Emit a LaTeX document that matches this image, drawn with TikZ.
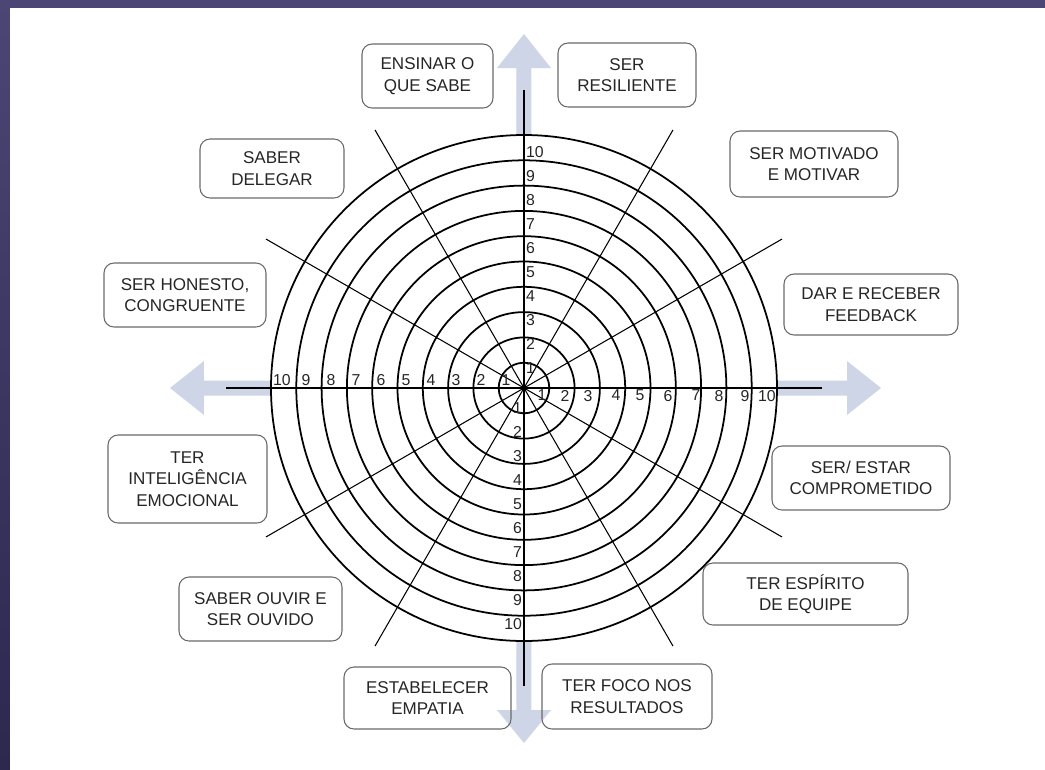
\documentclass[tikz,border=0pt]{standalone}
\usepackage{fontspec}
\setmainfont{Liberation Sans}
\definecolor{framepurple}{HTML}{4B4674}
\definecolor{framedark}{HTML}{2C284E}
\definecolor{axisblue}{HTML}{CDD5E6}
\definecolor{boxgrey}{HTML}{6A6A6A}
\definecolor{inkgrey}{HTML}{262626}
\begin{document}
\begin{tikzpicture}[x=0.02cm,y=0.02cm,
    ring/.style={line width=1pt},
    spoke/.style={line width=0.6pt},
    axisarrow/.style={fill=axisblue},
    num/.style={inner sep=1pt,text=inkgrey,font=\fontsize{9}{10.8}\selectfont},
    numup/.style={num,anchor=west},
    numdown/.style={num,anchor=east},
    numleft/.style={num,anchor=south},
    numright/.style={num,anchor=north},
    skill/.style={draw=boxgrey,line width=0.6pt,rounded corners=0.2cm,align=center,
      inner sep=0pt,text=inkgrey,font=\fontsize{9.7}{12.2}\selectfont}]
  \useasboundingbox (-524,-381) rectangle (521,388);
  % frame
  \fill[top color=framepurple,bottom color=framedark] (-524,-381) rectangle (521,388);
  \fill[white] (-514,-386) rectangle (526,380.5);
  % axis arrows
  \fill[axisarrow] (253,-7.5) -- (323,-7.5) -- (323,-27) -- (357,0) -- (323,27) -- (323,7.5) -- (253,7.5) -- cycle;
  \fill[axisarrow,rotate=90] (253,-7.5) -- (320,-7.5) -- (320,-27) -- (354,0) -- (320,27) -- (320,7.5) -- (253,7.5) -- cycle;
  \fill[axisarrow,rotate=180] (253,-7.5) -- (320,-7.5) -- (320,-27) -- (354,0) -- (320,27) -- (320,7.5) -- (253,7.5) -- cycle;
  \fill[axisarrow,rotate=270] (253,-7.5) -- (322,-7.5) -- (322,-27) -- (355,0) -- (322,27) -- (322,7.5) -- (253,7.5) -- cycle;
  \coordinate (c) at (0,0);
  \draw[ring]
    (c) circle (25.3)
    (c) circle (50.6)
    (c) circle (75.9)
    (c) circle (101.2)
    (c) circle (126.5)
    (c) circle (151.8)
    (c) circle (177.1)
    (c) circle (202.4)
    (c) circle (227.7)
    (c) circle (253);
  \path
    (0:298) coordinate (s0)
    (30:298) coordinate (s30)
    (60:298) coordinate (s60)
    (90:298) coordinate (s90)
    (120:298) coordinate (s120)
    (150:298) coordinate (s150)
    (180:298) coordinate (s180)
    (210:298) coordinate (s210)
    (240:298) coordinate (s240)
    (270:298) coordinate (s270)
    (300:298) coordinate (s300)
    (330:298) coordinate (s330);
  \begin{scope}[spoke]
    \draw (s0) to (s180);
    \draw (s30) to (s210);
    \draw (s60) to (s240);
    \draw (s90) to (s270);
    \draw (s120) to (s300);
    \draw (s150) to (s330);
  \end{scope}
  \fill (c) circle (3);
  % scale numbers
  \path
    (0,20) node[numup] (u1){1}
    (0,44) node[numup] (u2){2}
    (0,68) node[numup] (u3){3}
    (0,92) node[numup] (u4){4}
    (0,116) node[numup] (u5){5}
    (0,140) node[numup] (u6){6}
    (0,164) node[numup] (u7){7}
    (0,188) node[numup] (u8){8}
    (0,212) node[numup] (u9){9}
    (0,236) node[numup] (u10){10};
  \path
    (0,-20) node[numdown] (d1){1}
    (0,-44) node[numdown] (d2){2}
    (0,-68) node[numdown] (d3){3}
    (0,-92) node[numdown] (d4){4}
    (0,-116) node[numdown] (d5){5}
    (0,-140) node[numdown] (d6){6}
    (0,-164) node[numdown] (d7){7}
    (0,-188) node[numdown] (d8){8}
    (0,-212) node[numdown] (d9){9}
    (0,-236) node[numdown] (d10){10};
  \path
    (-18,0) node[numleft] (l1){1}
    (-43,0) node[numleft] (l2){2}
    (-68,0) node[numleft] (l3){3}
    (-93,0) node[numleft] (l4){4}
    (-118,0) node[numleft] (l5){5}
    (-143,0) node[numleft] (l6){6}
    (-168,0) node[numleft] (l7){7}
    (-193,0) node[numleft] (l8){8}
    (-218,0) node[numleft] (l9){9}
    (-242,0) node[numleft] (l10){10};
  \path
    (18,0) node[numright] (r1){1}
    (41,0) node[numright] (r2){2}
    (64,0) node[numright] (r3){3}
    (92,0) node[numright] (r4){4}
    (116,0) node[numright] (r5){5}
    (144,0) node[numright] (r6){6}
    (172,0) node[numright] (r7){7}
    (195,0) node[numright] (r8){8}
    (221,0) node[numright] (r9){9}
    (243,0) node[numright] (r10){10};
  % skills
  \node[skill,minimum width=2.62cm,minimum height=1.28cm] (ensinar) at (-96.5,312) {ENSINAR O\\QUE SABE};
  \node[skill,minimum width=2.76cm,minimum height=1.28cm] (resiliente) at (103,313) {SER\\RESILIENTE};
  \node[skill,minimum width=2.88cm,minimum height=1.18cm] (delegar) at (-252,219.5) {SABER\\DELEGAR};
  \node[skill,minimum width=3.36cm,minimum height=1.32cm] (motivado) at (290,224) {SER MOTIVADO\\E MOTIVAR};
  \node[skill,minimum width=3.24cm,minimum height=1.28cm] (honesto) at (-339,93) {SER HONESTO,\\CONGRUENTE};
  \node[skill,minimum width=3.48cm,minimum height=1.22cm] (feedback) at (347,83.5) {DAR E RECEBER\\FEEDBACK};
  \node[skill,minimum width=3.18cm,minimum height=1.76cm] (inteligencia) at (-336.5,-91) {TER\\INTELIGÊNCIA\\EMOCIONAL};
  \node[skill,minimum width=3.56cm,minimum height=1.28cm] (comprometido) at (337,-90) {SER/ ESTAR\\COMPROMETIDO};
  \node[skill,minimum width=3.26cm,minimum height=1.28cm] (ouvir) at (-263.5,-221) {SABER OUVIR E\\SER OUVIDO};
  \node[skill,minimum width=4.10cm,minimum height=1.24cm] (equipe) at (281.5,-206) {TER ESPÍRITO\\DE EQUIPE};
  \node[skill,minimum width=3.34cm,minimum height=1.24cm] (empatia) at (-96.5,-310) {ESTABELECER\\EMPATIA};
  \node[skill,minimum width=3.40cm,minimum height=1.30cm] (foco) at (103,-308.5) {TER FOCO NOS\\RESULTADOS};
\end{tikzpicture}
\end{document}
